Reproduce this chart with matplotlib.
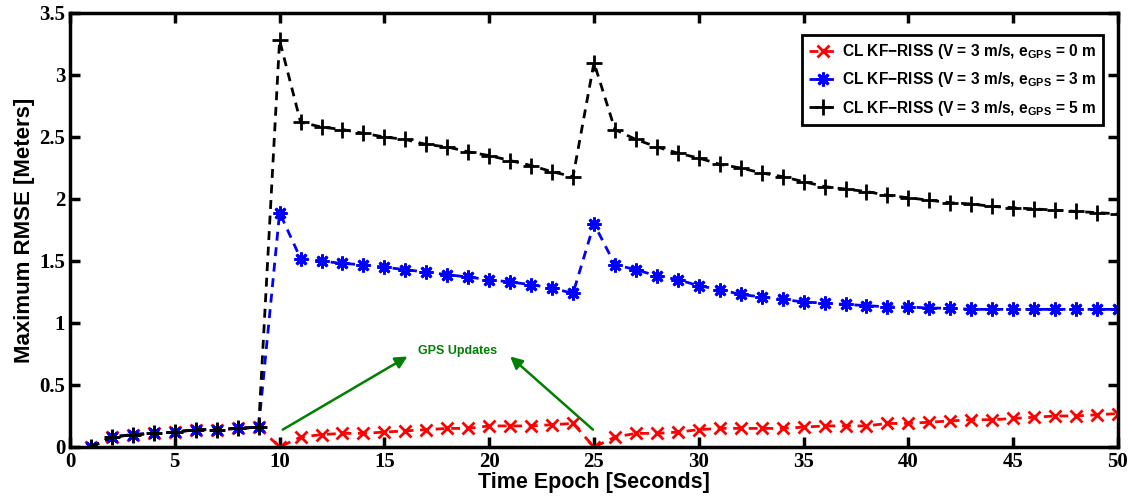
import matplotlib
matplotlib.use("Agg")
import matplotlib.pyplot as plt

plt.rcParams['mathtext.fontset'] = 'custom'
plt.rcParams['mathtext.rm'] = 'Liberation Sans:bold'
plt.rcParams['mathtext.default'] = 'rm'

epochs = list(range(1, 51))

rmse_e0 = [0, 0.08, 0.10, 0.11, 0.12, 0.14, 0.14, 0.15, 0.16,
           0, 0.08, 0.10, 0.11, 0.11, 0.12, 0.13, 0.14, 0.15, 0.15, 0.17,
           0.17, 0.17, 0.18, 0.19,
           0, 0.08, 0.11, 0.11, 0.12, 0.14, 0.15, 0.15, 0.15, 0.15, 0.16,
           0.17, 0.17, 0.17, 0.19, 0.19, 0.20, 0.21, 0.22, 0.22, 0.23,
           0.24, 0.25, 0.25, 0.26, 0.27]

rmse_e3 = [0, 0.08, 0.10, 0.11, 0.12, 0.14, 0.14, 0.15, 0.16,
           1.89, 1.52, 1.50, 1.48, 1.47, 1.45, 1.43, 1.41, 1.39, 1.37, 1.35,
           1.33, 1.31, 1.28, 1.24,
           1.80, 1.47, 1.43, 1.38, 1.35, 1.30, 1.27, 1.23, 1.21, 1.19, 1.17,
           1.16, 1.15, 1.14, 1.13, 1.13, 1.12, 1.12, 1.11, 1.11, 1.11,
           1.11, 1.11, 1.11, 1.11, 1.11]

rmse_e5 = [0, 0.08, 0.10, 0.11, 0.12, 0.14, 0.14, 0.15, 0.16,
           3.28, 2.62, 2.58, 2.56, 2.53, 2.50, 2.48, 2.44, 2.42, 2.38, 2.35,
           2.31, 2.27, 2.22, 2.18,
           3.10, 2.56, 2.48, 2.42, 2.37, 2.33, 2.28, 2.25, 2.21, 2.18, 2.14,
           2.10, 2.08, 2.06, 2.03, 2.01, 1.99, 1.97, 1.96, 1.94, 1.93,
           1.92, 1.91, 1.90, 1.89, 1.88]

labels = [r"CL KF$-$RISS (V = 3 m/s, e$_{GPS}$ = 0 m",
          r"CL KF$-$RISS (V = 3 m/s, e$_{GPS}$ = 3 m",
          r"CL KF$-$RISS (V = 3 m/s, e$_{GPS}$ = 5 m"]

fig = plt.figure(figsize=(11.34, 4.99), dpi=100)
ax = fig.add_axes([70 / 1134, 52 / 499, 1048 / 1134, 434 / 499])

dash = (3.2, 2.4)
ax.plot(epochs, rmse_e0, color='red', linestyle='--', dashes=dash, linewidth=2,
        marker='x', markersize=8, markeredgewidth=2, label=labels[0])
ax.plot(epochs, rmse_e3, color='blue', linestyle='--', dashes=dash, linewidth=2,
        marker=(8, 2, 0), markersize=10, markeredgewidth=2, label=labels[1])
ax.plot(epochs, rmse_e5, color='black', linestyle='--', dashes=dash, linewidth=2,
        marker='+', markersize=11, markeredgewidth=2, label=labels[2])

ax.set_xlim(0, 50)
ax.set_ylim(0, 3.5)
ax.set_xticks(range(0, 51, 5))
ax.set_yticks([0, 0.5, 1, 1.5, 2, 2.5, 3, 3.5])
ax.set_yticklabels(['0', '0.5', '1', '1.5', '2', '2.5', '3', '3.5'])
ax.tick_params(direction='in', top=True, right=True, length=7, width=2.5,
               labelsize=15)
for lbl in ax.get_xticklabels() + ax.get_yticklabels():
    lbl.set_fontfamily('Liberation Serif')
    lbl.set_fontweight('bold')
for sp in ax.spines.values():
    sp.set_linewidth(2.5)

ax.set_xlabel('Time Epoch [Seconds]', fontsize=15.5, fontweight='bold',
              family='Liberation Sans', labelpad=0)
ax.set_ylabel('Maximum RMSE [Meters]', fontsize=16, fontweight='bold',
              family='Liberation Sans', labelpad=3)

leg = ax.legend(loc='upper right', bbox_to_anchor=(0.986, 0.949),
                borderaxespad=0,
                prop={'family': 'Liberation Sans', 'weight': 'bold', 'size': 11.2},
                handlelength=1.8, handletextpad=0.35, labelspacing=0.6,
                borderpad=0.45, fancybox=False, framealpha=1)
leg.get_frame().set_edgecolor('black')
leg.get_frame().set_linewidth(2)

# GPS update annotation with two arrows
ax.text(18.5, 0.775, 'GPS Updates', color='green', fontsize=9,
        fontweight='bold', family='Liberation Sans', ha='center', va='center')
ax.annotate('', xy=(16.1, 0.73), xytext=(10.15, 0.14),
            arrowprops=dict(arrowstyle='-|>', color='green', lw=1.8,
                            mutation_scale=18, shrinkA=0, shrinkB=0))
ax.annotate('', xy=(21.0, 0.73), xytext=(24.95, 0.14),
            arrowprops=dict(arrowstyle='-|>', color='green', lw=1.8,
                            mutation_scale=18, shrinkA=0, shrinkB=0))

fig.savefig('out.png', dpi=100)
